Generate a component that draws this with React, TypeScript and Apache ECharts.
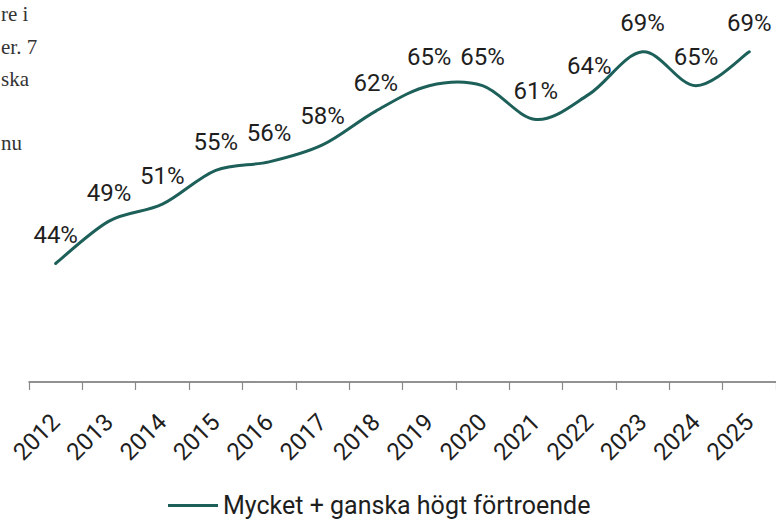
import React, { useEffect, useRef } from "react";
import * as echarts from "echarts";

const years = ["2012", "2013", "2014", "2015", "2016", "2017", "2018", "2019", "2020", "2021", "2022", "2023", "2024", "2025"];
const trust = [44, 49, 51, 55, 56, 58, 62, 65, 65, 61, 64, 69, 65, 69];
const seriesName = "Mycket + ganska högt förtroende";
const sideTextLines = ["re i", "er. 7", "ska", "nu"];
const sideTextBaselines = [24, 57, 89, 153];

const LINE_COLOR = "#1d5f59";

export default function App() {
  const ref = useRef<HTMLDivElement>(null);
  useEffect(() => {
    if (!ref.current) return;
    const chart = echarts.init(ref.current, null, { renderer: "svg" });
    const font = "Roboto, 'DejaVu Sans', sans-serif";

    // Spreadsheet-style smoothed curve (Catmull-Rom through every point), placed via the chart's scales.
    const renderCurve = (params: any, api: any) => {
      if (params.dataIndex !== 0) return null;
      const pts = trust.map((v, i) => api.coord([i, v]));
      let d = `M${pts[0][0]},${pts[0][1]}`;
      for (let i = 0; i < pts.length - 1; i++) {
        const p0 = pts[Math.max(0, i - 1)];
        const p1 = pts[i];
        const p2 = pts[i + 1];
        const p3 = pts[Math.min(pts.length - 1, i + 2)];
        const c1x = p1[0] + (p2[0] - p0[0]) / 6;
        const c1y = p1[1] + (p2[1] - p0[1]) / 6;
        const c2x = p2[0] - (p3[0] - p1[0]) / 6;
        const c2y = p2[1] - (p3[1] - p1[1]) / 6;
        d += ` C${c1x},${c1y} ${c2x},${c2y} ${p2[0]},${p2[1]}`;
      }
      return {
        type: "path",
        shape: { pathData: d },
        style: { stroke: LINE_COLOR, lineWidth: 3, fill: "none", lineCap: "round", lineJoin: "round" },
        silent: true,
      };
    };

    chart.setOption({
      animation: false,
      backgroundColor: "#ffffff",
      grid: { left: 29, width: 749, top: 1, height: 381, containLabel: false },
      xAxis: {
        type: "category",
        data: years,
        boundaryGap: true,
        axisLine: { show: true, lineStyle: { color: "#6e6e6e", width: 1.5 } },
        axisTick: { show: true, length: 8, lineStyle: { color: "#8a8a8a", width: 1.2 } },
        axisLabel: {
          rotate: 45,
          margin: 36,
          fontSize: 24,
          fontFamily: font,
          color: "#1e1e1e",
          interval: 0,
        },
      },
      yAxis: {
        type: "value",
        min: 30,
        max: 75,
        show: false,
        splitLine: { show: false },
      },
      legend: {
        left: 163,
        top: 488,
        icon: "rect",
        itemWidth: 50,
        itemHeight: 3,
        itemGap: 10,
        itemStyle: { color: LINE_COLOR, opacity: 1 },
        textStyle: { fontSize: 25, fontFamily: font, color: "#1e1e1e" },
        data: [seriesName],
      },
      series: [
        {
          type: "custom",
          name: "curve",
          renderItem: renderCurve,
          data: trust.map((v, i) => [i, v]),
          encode: { x: 0, y: 1 },
          silent: true,
          z: 2,
        },
        {
          name: seriesName,
          type: "line",
          data: trust,
          showSymbol: true,
          symbol: "circle",
          symbolSize: 1,
          lineStyle: { color: LINE_COLOR, width: 3, opacity: 0 },
          itemStyle: { color: LINE_COLOR, opacity: 1 },
          z: 3,
          label: {
            show: true,
            position: "top",
            distance: 16,
            fontSize: 24,
            fontFamily: font,
            color: "#1e1e1e",
            formatter: (p: any) => Math.round(p.value) + "%",
          },
        },
      ],
      graphic: sideTextLines.map((t, i) => ({
        type: "text",
        x: 1,
        y: sideTextBaselines[i],
        style: {
          text: t,
          align: "left",
          verticalAlign: "bottom",
          fontSize: 21,
          fontFamily: "'Liberation Serif', 'DejaVu Serif', serif",
          fill: "#333333",
        },
      })),
    });
    return () => chart.dispose();
  }, []);
  return (
    <div
      ref={ref}
      style={{ position: "fixed", left: 0, top: 0, width: 776, height: 520, background: "#fff" }}
    />
  );
}
